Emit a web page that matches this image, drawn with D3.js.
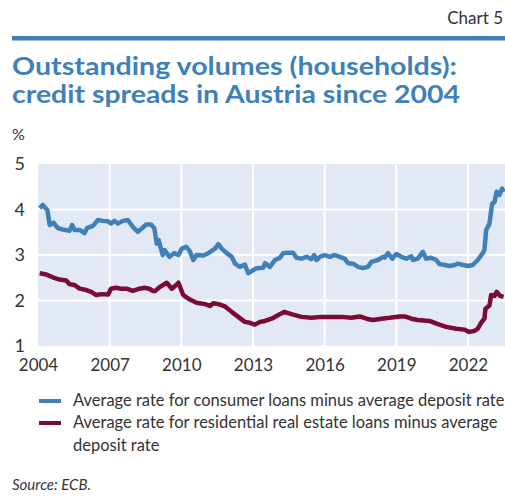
<!DOCTYPE html>
<html>
<head>
  <meta charset="utf-8">
  <script src="https://d3js.org/d3.v7.min.js"></script>
  <title>Chart 5</title>
  <style>
    body { margin: 0; background: #fff; }
    text { font-family: Lato, "Open Sans", sans-serif; }
  </style>
</head>
<body>
  <div id="chart"></div>
  <script>
    // readings, decimal years
    var consumerYears = [2004.07, 2004.2, 2004.39, 2004.49, 2004.65, 2004.83, 2005.04, 2005.32, 2005.43, 2005.53, 2005.74, 2005.95, 2006.05, 2006.3, 2006.51, 2006.72, 2006.93, 2007.06, 2007.2, 2007.34, 2007.55, 2007.76, 2007.97, 2008.18, 2008.36, 2008.53, 2008.73, 2008.87, 2008.97, 2009.05, 2009.22, 2009.3, 2009.5, 2009.7, 2009.88, 2010.02, 2010.2, 2010.35, 2010.5, 2010.64, 2010.92, 2011.13, 2011.41, 2011.55, 2011.69, 2011.9, 2012.11, 2012.25, 2012.45, 2012.66, 2012.8, 2012.87, 2013.15, 2013.43, 2013.5, 2013.71, 2013.92, 2014.13, 2014.26, 2014.47, 2014.68, 2014.82, 2015.03, 2015.24, 2015.45, 2015.56, 2015.66, 2015.8, 2016.0, 2016.21, 2016.42, 2016.63, 2016.84, 2016.98, 2017.19, 2017.4, 2017.6, 2017.81, 2017.96, 2018.23, 2018.44, 2018.51, 2018.65, 2018.83, 2019.0, 2019.21, 2019.42, 2019.63, 2019.7, 2019.9, 2020.11, 2020.25, 2020.46, 2020.67, 2020.81, 2021.02, 2021.23, 2021.44, 2021.58, 2021.79, 2022.0, 2022.2, 2022.41, 2022.62, 2022.69, 2022.76, 2022.9, 2023.01, 2023.11, 2023.2, 2023.32, 2023.43, 2023.5];
    var consumerSpread = [4.03, 4.1, 3.99, 3.66, 3.71, 3.59, 3.56, 3.53, 3.66, 3.55, 3.55, 3.48, 3.59, 3.64, 3.77, 3.75, 3.74, 3.69, 3.75, 3.69, 3.75, 3.77, 3.62, 3.51, 3.59, 3.67, 3.67, 3.59, 3.25, 3.33, 3.0, 3.11, 2.96, 3.04, 3.0, 3.14, 3.18, 3.09, 2.89, 3.0, 2.99, 3.04, 3.14, 3.24, 3.14, 3.04, 2.96, 2.81, 2.74, 2.79, 2.6, 2.62, 2.71, 2.72, 2.82, 2.74, 2.89, 2.94, 3.04, 3.05, 3.05, 2.94, 2.92, 2.96, 2.91, 3.0, 2.89, 2.96, 3.0, 2.96, 3.0, 2.96, 2.92, 2.82, 2.81, 2.74, 2.71, 2.74, 2.85, 2.89, 2.96, 2.94, 3.04, 2.92, 3.02, 2.96, 2.92, 2.97, 2.89, 2.92, 3.07, 2.92, 2.94, 2.89, 2.8, 2.78, 2.76, 2.78, 2.81, 2.78, 2.76, 2.78, 2.89, 3.04, 3.11, 3.55, 3.69, 4.13, 4.16, 4.39, 4.32, 4.46, 4.39];

    var realEstateYears = [2004.07, 2004.35, 2004.62, 2004.9, 2005.18, 2005.32, 2005.53, 2005.74, 2006.02, 2006.23, 2006.44, 2006.65, 2006.93, 2007.06, 2007.27, 2007.48, 2007.7, 2007.97, 2008.25, 2008.46, 2008.66, 2008.8, 2008.9, 2009.11, 2009.39, 2009.6, 2009.81, 2009.88, 2010.08, 2010.36, 2010.64, 2010.99, 2011.2, 2011.34, 2011.55, 2011.83, 2012.11, 2012.38, 2012.66, 2012.87, 2013.08, 2013.29, 2013.5, 2013.78, 2014.06, 2014.31, 2014.61, 2015.03, 2015.45, 2015.87, 2016.29, 2016.7, 2017.12, 2017.47, 2017.75, 2018.02, 2018.38, 2018.72, 2019.14, 2019.35, 2019.63, 2019.9, 2020.39, 2020.74, 2021.09, 2021.51, 2021.86, 2022.04, 2022.27, 2022.41, 2022.55, 2022.69, 2022.73, 2022.9, 2022.97, 2023.11, 2023.2, 2023.35, 2023.49];
    var realEstateSpread = [2.6, 2.57, 2.51, 2.46, 2.44, 2.36, 2.34, 2.26, 2.23, 2.19, 2.12, 2.14, 2.13, 2.26, 2.28, 2.26, 2.26, 2.21, 2.26, 2.28, 2.26, 2.21, 2.21, 2.3, 2.39, 2.26, 2.35, 2.39, 2.12, 2.02, 1.95, 1.92, 1.88, 1.94, 1.92, 1.87, 1.75, 1.64, 1.53, 1.51, 1.47, 1.53, 1.55, 1.6, 1.68, 1.75, 1.7, 1.64, 1.62, 1.64, 1.64, 1.64, 1.62, 1.65, 1.6, 1.57, 1.6, 1.62, 1.65, 1.65, 1.6, 1.57, 1.55, 1.48, 1.42, 1.38, 1.36, 1.31, 1.33, 1.38, 1.51, 1.6, 1.82, 1.89, 2.12, 2.1, 2.19, 2.1, 2.08];

    var xTicks = [2004, 2007, 2010, 2013, 2016, 2019, 2022];
    var yTicks = [1, 2, 3, 4, 5];
    var seriesNames = ["Average rate for consumer loans minus average deposit rate",
                       "Average rate for residential real estate loans minus average deposit rate"];

    var blue = "#3f80b8", red = "#7b0a35";
    var W = 505, H = 502;

    var svg = d3.select("#chart").append("svg")
      .attr("width", W)
      .attr("height", H);

    // header
    svg.append("text")
      .attr("x", 503).attr("y", 24)
      .attr("text-anchor", "end")
      .style("font-size", "17px")
      .style("fill", "#333")
      .text("Chart 5");
    svg.append("rect")
      .attr("x", 12).attr("y", 36)
      .attr("width", W - 12).attr("height", 4.5)
      .attr("fill", blue);
    var title = svg.append("text")
      .style("font-size", "24px")
      .style("font-weight", "bold")
      .style("fill", blue);
    title.append("tspan").attr("x", 12).attr("y", 75)
      .attr("textLength", 445).attr("lengthAdjust", "spacingAndGlyphs")
      .text("Outstanding volumes (households):");
    title.append("tspan").attr("x", 12).attr("y", 103)
      .attr("textLength", 448).attr("lengthAdjust", "spacingAndGlyphs")
      .text("credit spreads in Austria since 2004");

    svg.append("text")
      .attr("x", 12).attr("y", 140)
      .style("font-size", "16px")
      .style("fill", "#333")
      .text("%");

    // plot
    var x = d3.scaleLinear().domain([2004, 2023.55]).range([38, 505]);
    var y = d3.scaleLinear().domain([1, 5]).range([346, 164]);

    svg.append("rect")
      .attr("x", x(2004)).attr("y", y(5))
      .attr("width", x(2023.55) - x(2004))
      .attr("height", y(1) - y(5))
      .attr("fill", "#e3e9f4");

    svg.append("g").selectAll("line")
      .data(yTicks.slice(1, 4))
      .join("line")
      .attr("x1", x(2004)).attr("x2", x(2023.55))
      .attr("y1", d => y(d)).attr("y2", d => y(d))
      .attr("stroke", "#fff").attr("stroke-width", 2);
    svg.append("g").selectAll("line")
      .data(xTicks.slice(1))
      .join("line")
      .attr("x1", d => x(d)).attr("x2", d => x(d))
      .attr("y1", y(5)).attr("y2", y(1))
      .attr("stroke", "#fff").attr("stroke-width", 2);

    // axes, domain paths removed
    var yAxis = svg.append("g")
      .attr("transform", "translate(" + x(2004) + ",0)")
      .call(d3.axisLeft(y).tickValues(yTicks).tickFormat(d3.format("d")).tickSize(0).tickPadding(13));
    yAxis.select(".domain").remove();
    yAxis.selectAll("text")
      .style("font-family", "Lato, sans-serif")
      .style("font-size", "18px")
      .style("fill", "#333");

    var xAxis = svg.append("g")
      .attr("transform", "translate(0," + y(1) + ")")
      .call(d3.axisBottom(x).tickValues(xTicks).tickFormat(d3.format("d")).tickSize(0).tickPadding(13));
    xAxis.select(".domain").remove();
    xAxis.selectAll("text")
      .style("font-family", "Lato, sans-serif")
      .style("font-size", "17px")
      .style("fill", "#333");

    var line = d3.line()
      .x(d => x(d[0]))
      .y(d => y(d[1]));

    svg.append("path")
      .datum(d3.zip(realEstateYears, realEstateSpread))
      .attr("d", line)
      .attr("fill", "none")
      .attr("stroke", red)
      .attr("stroke-width", 4.5)
      .attr("stroke-linejoin", "round");
    svg.append("path")
      .datum(d3.zip(consumerYears, consumerSpread))
      .attr("d", line)
      .attr("fill", "none")
      .attr("stroke", blue)
      .attr("stroke-width", 4.5)
      .attr("stroke-linejoin", "round");

    // legend
    var legend = svg.append("g");
    legend.append("rect").attr("x", 39).attr("y", 399).attr("width", 22).attr("height", 4).attr("fill", blue);
    legend.append("rect").attr("x", 39).attr("y", 421).attr("width", 22).attr("height", 4).attr("fill", red);
    legend.append("text")
      .attr("x", 73).attr("y", 406)
      .style("font-size", "16.5px").style("fill", "#333")
      .text(seriesNames[0]);
    var l2 = legend.append("text")
      .style("font-size", "16.5px").style("fill", "#333");
    l2.append("tspan").attr("x", 73).attr("y", 428).text("Average rate for residential real estate loans minus average");
    l2.append("tspan").attr("x", 73).attr("y", 451).text("deposit rate");

    svg.append("text")
      .attr("x", 12).attr("y", 490)
      .style("font-size", "15px")
      .style("font-style", "italic")
      .style("fill", "#333")
      .text("Source: ECB.");
  </script>
</body>
</html>
